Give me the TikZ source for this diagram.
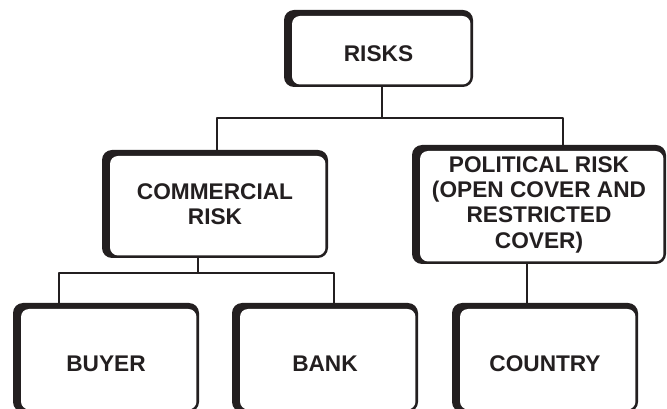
\documentclass[tikz,border=0pt]{standalone}
\usepackage{fontspec}
\setmainfont{Liberation Sans}
\definecolor{ink}{HTML}{231F20}
\tikzset{
  riskbox/.style={rounded corners=7.5pt, fill=ink, inner sep=0pt, align=center,
    font=\fontsize{17}{19}\selectfont\bfseries, text=ink,
    path picture={\fill[white, rounded corners=6pt]
      ([xshift=6pt,yshift=-4.5pt]path picture bounding box.north west) rectangle
      ([xshift=-1.9pt,yshift=1.9pt]path picture bounding box.south east);}},
  link/.style={draw=ink, line width=1.5pt}
}
\begin{document}
\begin{tikzpicture}[x=0.75pt, y=-0.75pt, line join=round]
			\clip (0,0) rectangle (667,409);
			\node[riskbox, minimum width=141.75pt, minimum height=57.75pt, text height=19.3pt] (risks) at (378.5,48.5) {RISKS};
			\node[riskbox, minimum width=169.5pt, minimum height=81pt] (comm) at (215,204) {COMMERCIAL\\RISK};
			\node[riskbox, minimum width=190.5pt, minimum height=89.25pt] (pol) at (539,204.5) {POLITICAL RISK\\(OPEN COVER AND\\RESTRICTED\\COVER)};
			\node[riskbox, minimum width=139.5pt, minimum height=81.75pt, text height=20.8pt] (buyer) at (106,357.5) {BUYER};
			\node[riskbox, minimum width=139.5pt, minimum height=81.75pt, text height=20.8pt] (bank) at (325,357.5) {BANK};
			\node[riskbox, minimum width=139.5pt, minimum height=81.75pt, text height=20.8pt] (country) at (545,357.5) {COUNTRY};
			\coordinate (j1) at (381.7,118); \coordinate (j1l) at (217,118);
			\coordinate (j1r) at (563,118);
			\coordinate (j2) at (198,273); \coordinate (j2l) at (59,273);
			\coordinate (j2r) at (334,273);
			\coordinate (j3) at (527,284);
			\draw[link] (risks.south -| j1) -- (j1);
			\draw[link] (comm.north -| j1l) |- (j1r) -- (pol.north -| j1r);
			\draw[link] (comm.south -| j2) -- (j2);
			\draw[link] (buyer.north -| j2l) |- (j2r) -- (bank.north -| j2r);
			\draw[link] (pol.south -| j3) -- (country.north -| j3);
		\end{tikzpicture}
\end{document}
